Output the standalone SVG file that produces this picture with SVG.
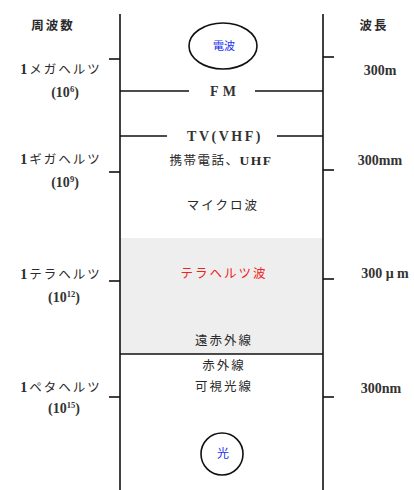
<svg xmlns="http://www.w3.org/2000/svg" width="414" height="490" viewBox="0 0 414 490">
<style>
.ln{stroke:#111;stroke-width:1.6;fill:none}
.t{font-family:"Liberation Serif","Noto Sans CJK JP",serif;font-size:12.5px;fill:#2a2a2a;text-anchor:middle;letter-spacing:2px}
.lat{font-family:"Liberation Serif","Noto Sans CJK JP",serif;font-size:14px;font-weight:bold;fill:#333;text-anchor:middle}
.b{font-weight:bold}
.one{font-size:14px;font-weight:bold}
.sup{font-size:8.5px}
</style>
<rect x="120" y="238" width="203" height="116" fill="#eeeeee"/>
<g id="connectors">
<line class="ln" x1="120" y1="14" x2="120" y2="490"/>
<line class="ln" x1="323" y1="14" x2="323" y2="490"/>
<line class="ln" x1="109" y1="59" x2="120" y2="59"/>
<line class="ln" x1="323" y1="57" x2="334" y2="57"/>
<line class="ln" x1="120" y1="91" x2="189" y2="91"/>
<line class="ln" x1="255" y1="91" x2="323" y2="91"/>
<line class="ln" x1="120" y1="136" x2="167" y2="136"/>
<line class="ln" x1="277" y1="136" x2="323" y2="136"/>
<line class="ln" x1="109" y1="172" x2="120" y2="172"/>
<line class="ln" x1="323" y1="170" x2="334" y2="170"/>
<line class="ln" x1="109" y1="281" x2="120" y2="281"/>
<line class="ln" x1="323" y1="279" x2="334" y2="279"/>
<line class="ln" x1="120" y1="354" x2="323" y2="354"/>
<line class="ln" x1="109" y1="397" x2="120" y2="397"/>
<line class="ln" x1="323" y1="397" x2="334" y2="397"/>
</g>
<g id="header-freq"><text class="t b" x="53" y="30">周波数</text></g>
<g id="header-wave"><text class="t b" x="374" y="30">波長</text></g>
<g id="mega"><text class="t" x="61" y="74"><tspan class="one">1</tspan>メガヘルツ</text><text class="lat" x="65" y="97">(10<tspan class="sup" dy="-5">6</tspan><tspan dy="5">)</tspan></text></g>
<g id="giga"><text class="t" x="61" y="164"><tspan class="one">1</tspan>ギガヘルツ</text><text class="lat" x="65" y="187">(10<tspan class="sup" dy="-5">9</tspan><tspan dy="5">)</tspan></text></g>
<g id="tera"><text class="t" x="61" y="279"><tspan class="one">1</tspan>テラヘルツ</text><text class="lat" x="64" y="302">(10<tspan class="sup" dy="-5">12</tspan><tspan dy="5">)</tspan></text></g>
<g id="peta"><text class="t" x="61" y="392"><tspan class="one">1</tspan>ペタヘルツ</text><text class="lat" x="64" y="413">(10<tspan class="sup" dy="-5">15</tspan><tspan dy="5">)</tspan></text></g>
<g id="w300m"><text class="lat" x="380" y="75">300m</text></g>
<g id="w300mm"><text class="lat" x="380" y="165">300mm</text></g>
<g id="w300um"><text class="lat" x="385" y="278">300 μ m</text></g>
<g id="w300nm"><text class="lat" x="381" y="393">300nm</text></g>
<g id="denpa"><ellipse cx="223" cy="46" rx="34" ry="23" fill="#fff" stroke="#111" stroke-width="1.6"/><text class="t" x="224" y="50" style="fill:#2233ee;font-size:11px;letter-spacing:0">電波</text></g>
<g id="fm"><text class="lat" x="225" y="96" style="letter-spacing:4px">FM</text></g>
<g id="tv"><text class="lat" x="225" y="141" style="letter-spacing:2.5px">TV(VHF)</text></g>
<g id="keitai"><text class="t" x="221" y="165" style="letter-spacing:1.5px">携帯電話、<tspan class="b" style="font-size:13.5px">UHF</tspan></text></g>
<g id="micro"><text class="t" x="223" y="210">マイクロ波</text></g>
<g id="terawave"><text class="t" x="224" y="278" style="fill:#ee2222">テラヘルツ波</text></g>
<g id="farir"><text class="t" x="224" y="345">遠赤外線</text></g>
<g id="ir"><text class="t" x="224" y="370">赤外線</text></g>
<g id="visible"><text class="t" x="224" y="391">可視光線</text></g>
<g id="light"><circle cx="222" cy="454" r="21" fill="#fff" stroke="#111" stroke-width="1.6"/><text class="t" x="223" y="458" style="fill:#2233ee;font-size:12px;letter-spacing:0">光</text></g>
</svg>
